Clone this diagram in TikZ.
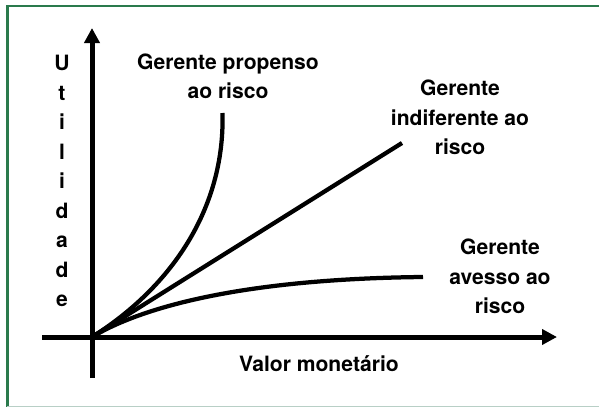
\documentclass[tikz,border=0pt]{standalone}
\usepackage{fontspec}
\setmainfont{TeX Gyre Heros}
\usetikzlibrary{arrows.meta}
\definecolor{verdeborda}{RGB}{42,122,76}
\definecolor{cinzaborda}{RGB}{184,207,198}

\begin{document}
\begin{tikzpicture}[
    rotulo/.style={font=\fontsize{12}{16.8}\selectfont\bfseries, align=center, inner sep=0pt},
    eixo/.style={line width=0.1cm, -{Triangle[length=0.3cm, width=0.3cm]}},
    curva/.style={line width=0.085cm}]
    \useasboundingbox (0, 0) rectangle (11.98, 8.16);
    \draw[verdeborda, line width=0.05cm] (0.15, 0.03) -- (0.15, 8.04) -- (11.98, 8.04);
    \draw[cinzaborda, line width=0.03cm] (0.15, 0.03) -- (11.98, 0.03);
    \draw[eixo] (0.84, 1.42) -- (11.14, 1.42);
    \draw[eixo] (1.84, 0.6) -- (1.84, 7.6);
    \draw[curva] (1.84, 1.42) .. controls (3.4, 2.4) and (4.5, 3.96) .. (4.45, 5.9);
    \draw[curva] (1.84, 1.42) -- (8.04, 5.3);
    \draw[curva] (1.84, 1.42) .. controls (2.7, 1.94) and (4.6, 2.58) .. (8.46, 2.62);
    \node[rotulo] (propenso) at (4.56, 6.63) {Gerente propenso\\ao risco};
    \node[rotulo] (indiferente) at (9.2, 5.81) {Gerente\\indiferente ao\\risco};
    \node[rotulo] (avesso) at (10, 2.63) {Gerente\\avesso ao\\risco};
    \node[rotulo] (valor) at (6.38, 0.89) {Valor monetário};
    \node[rotulo] (utilidade) at (1.24, 4.54) {U\\t\\i\\l\\i\\d\\a\\d\\e};
\end{tikzpicture}
\end{document}
